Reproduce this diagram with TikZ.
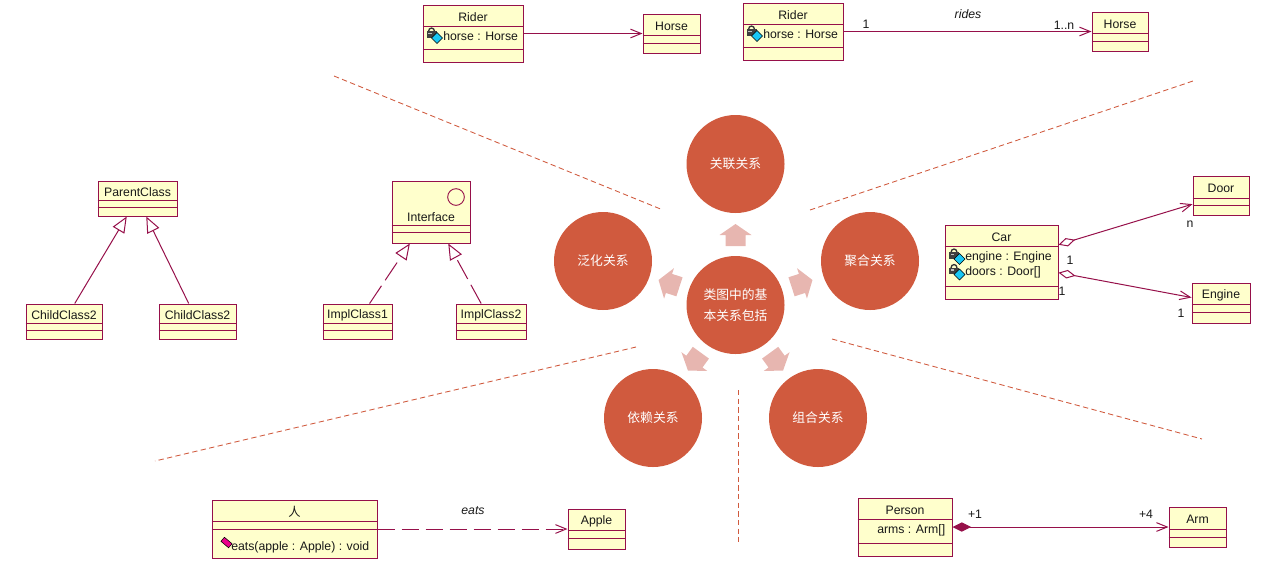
\documentclass[tikz,border=0pt]{standalone}
\usepackage{fontspec}
\setmainfont{Liberation Sans}
\newfontfamily\cjk{Noto Sans CJK SC}
\usetikzlibrary{positioning, shapes.geometric, calc, arrows.meta}
\definecolor{umlline}{HTML}{96104A}
\definecolor{umlfill}{HTML}{FFFFCC}
\definecolor{hubred}{HTML}{D05A3E}
\definecolor{hubpink}{HTML}{E7B6B0}
\definecolor{lockblue}{HTML}{19C8F5}
\tikzset{
  classbox/.style={draw=umlline, fill=umlfill, line width=.75pt, inner sep=0pt},
  classline/.style={draw=umlline, line width=.75pt},
  classtext/.style={font=\fontsize{9.2}{10}\selectfont, text=black!90, inner sep=0pt},
  umllink/.style={draw=umlline, line width=.75pt},
  openhead/.style={-{Straight Barb[length=8pt, width=6.5pt]}},
  hollowhead/.style={-{Triangle[open, length=12pt, width=10pt]}},
  hubcircle/.style={circle, fill=hubred, minimum size=73.5pt, inner sep=0pt, text=white, align=center,
    font=\cjk\fontsize{9.6}{15.5}\selectfont},
  hubarrow/.pic={\fill[hubpink] (-11,-10) -- (0,-10) -- (0,-16) -- (11,0) -- (0,16) -- (0,10) -- (-11,10) -- cycle;},
  sepline/.style={draw=hubred, line width=.65pt, dash pattern=on 4pt off 2.5pt},
}
% name, left, right, top, line 1, line 2, bottom, title
\newcommand{\umlclass}[8]{
  \node[classbox, minimum width={(#3-#2)*.75pt}, minimum height={(#7-#4)*.75pt}] (#1) at ({(#2+#3)/2},{(#4+#7)/2}) {};
  \draw[classline] (#1.west |- 0,#5) -- (#1.east |- 0,#5);
  \draw[classline] (#1.west |- 0,#6) -- (#1.east |- 0,#6);
  \node[classtext] (#1title) at ({(#2+#3)/2},{(#4+#5)/2+1.5}) {#8};
}
% private attribute icon
\newcommand{\lockicon}[2]{
  \begin{scope}[shift={(#1,#2)}]
    \draw[black!80, line width=1pt] (-3,-1) arc (180:360:3 and 3.5);
    \fill[black!75] (-5,-1.5) rectangle (5,5);
    \fill[black!25] (-3.5,0) rectangle (0,1.5);
    \draw[black, fill=lockblue, line width=.4pt] (0,5.5) -- (5.5,0) -- (11,5.5) -- (5.5,11) -- cycle;
  \end{scope}
}
\begin{document}
\begin{tikzpicture}[x=.75pt, y=-.75pt]
\useasboundingbox (0,0) rectangle (1269,562);

% dashed separators
\coordinate (sepAa) at (334,76);   \coordinate (sepAb) at (663,210);
\coordinate (sepBa) at (810,210);  \coordinate (sepBb) at (1193,81);
\coordinate (sepCa) at (636,347);  \coordinate (sepCb) at (155,461);
\coordinate (sepDa) at (738,390);  \coordinate (sepDb) at (738,542);
\coordinate (sepEa) at (832,339);  \coordinate (sepEb) at (1202,439);
\draw[sepline] (sepAa) -- (sepAb);
\draw[sepline] (sepBa) -- (sepBb);
\draw[sepline] (sepCa) -- (sepCb);
\draw[sepline] (sepDa) -- (sepDb);
\draw[sepline] (sepEa) -- (sepEb);

% centre
\pic[rotate=90] (arrowup) at (735.5,235) {hubarrow};
\pic[rotate=18] (arrowright) at (802,283.4) {hubarrow};
\pic[rotate=162] (arrowleft) at (669,283.4) {hubarrow};
\begin{scope}
  \clip (660,335) rectangle (810,370);
  \pic[rotate=-54] (arrowlowright) at (776.6,361.6) {hubarrow};
  \pic[rotate=-126] (arrowlowleft) at (694.4,361.6) {hubarrow};
\end{scope}
\node[hubcircle] (hub) at (735.5,305) {类图中的基\\本关系包括};
\node[hubcircle] (association) at (735.5,164) {关联关系};
\node[hubcircle] (aggregation) at (870,261) {聚合关系};
\node[hubcircle] (generalization) at (603,261) {泛化关系};
\node[hubcircle] (dependency) at (653,418) {依赖关系};
\node[hubcircle] (composition) at (818,418) {组合关系};

% association, one way
\umlclass{riderA}{423}{523}{5}{26}{49}{62}{Rider}
\umlclass{horseA}{643}{700}{14}{35}{43}{53}{Horse}
\lockicon{431.5}{32.5}
\node[classtext, anchor=west] (riderAattr) at (443,36) {horse : Horse};
\draw[umllink, openhead] (riderA) -- (horseA);

% association with multiplicity
\umlclass{riderB}{743}{843}{3}{24}{47}{60}{Rider}
\umlclass{horseB}{1092}{1148}{12}{33}{41}{51}{Horse}
\lockicon{751.5}{30.5}
\node[classtext, anchor=west] (riderBattr) at (763,34) {horse : Horse};
\draw[umllink, openhead] (riderB) -- (horseB);
\node[classtext] (ridesfrom) at (866,24) {1};
\node[classtext, font=\fontsize{9.2}{10}\selectfont\itshape] (rides) at (968,14) {rides};
\node[classtext] (ridesto) at (1064,25) {1..n};

% aggregation
\umlclass{car}{945}{1058}{225}{246}{286}{299}{Car}
\umlclass{door}{1193}{1249}{176}{198}{205}{215}{Door}
\umlclass{engine}{1192}{1250}{283}{304}{312}{323}{Engine}
\lockicon{954}{253.5}
\lockicon{954}{269}
\node[classtext, anchor=west] (carengine) at (965,257) {engine : Engine};
\node[classtext, anchor=west] (cardoors) at (965,272.5) {doors : Door[]};
\draw[umllink, {Diamond[open, length=13pt, width=6.5pt]}-{Straight Barb[length=8pt, width=6.5pt]}] (car) -- (door);
\draw[umllink, {Diamond[open, length=13pt, width=6.5pt]}-{Straight Barb[length=8pt, width=6.5pt]}] (car) -- (engine);
\node[classtext] (doorcount) at (1190,224) {n};
\node[classtext] (carcountA) at (1070,260) {1};
\node[classtext] (carcountB) at (1062,291) {1};
\node[classtext] (enginecount) at (1181,313) {1};

% generalization
\umlclass{parent}{98}{177}{181}{200}{207}{216}{ParentClass}
\umlclass{childA}{26}{102}{304}{323}{330}{339}{ChildClass2}
\umlclass{childB}{159}{236}{304}{323}{330}{339}{ChildClass2}
\draw[umllink, hollowhead] (childA) -- (parent);
\draw[umllink, hollowhead] (childB) -- (parent);

% realization
\umlclass{interface}{392}{470}{181}{225}{232}{243}{}
\node[classtext] (interfacetitle) at (431,217) {Interface};
\node[circle, draw=umlline, line width=.7pt, minimum size=12.5pt, inner sep=0pt] (interfaceicon) at (456,197) {};
\umlclass{implA}{323}{392}{304}{323}{330}{339}{ImplClass1}
\umlclass{implB}{456}{526}{304}{323}{330}{339}{ImplClass2}
\draw[umllink, dash pattern=on 16pt off 5pt, hollowhead] (implA) -- (interface);
\draw[umllink, dash pattern=on 16pt off 5pt, hollowhead] (implB) -- (interface);

% dependency
\umlclass{man}{212}{377}{500}{521}{529}{558}{\cjk 人}
\umlclass{apple}{568}{625}{509}{530}{538}{549}{Apple}
\node[rectangle, draw=black, fill=magenta, line width=.4pt, minimum width=7.5pt, minimum height=4pt, inner sep=0pt, rotate=-40] (methodicon) at (226.5,542.5) {};
\node[classtext, anchor=west] (maneats) at (231,547) {eats(apple : Apple) : void};
\draw[umllink, dash pattern=on 13pt off 5pt, openhead] (man) -- (apple);
\node[classtext, font=\fontsize{9.2}{10}\selectfont\itshape] (eats) at (473,511) {eats};

% composition
\umlclass{person}{858}{952}{498}{519}{543}{556}{Person}
\umlclass{arm}{1169}{1226}{507}{529}{537}{547}{Arm}
\node[classtext, anchor=west] (personarms) at (877,530) {arms : Arm[]};
\draw[umllink, {Diamond[length=14pt, width=7pt]}-{Straight Barb[length=8pt, width=6.5pt]}] (person) -- (arm);
\node[classtext] (personcount) at (975,514) {+1};
\node[classtext] (armcount) at (1146,514) {+4};
\end{tikzpicture}
\end{document}
